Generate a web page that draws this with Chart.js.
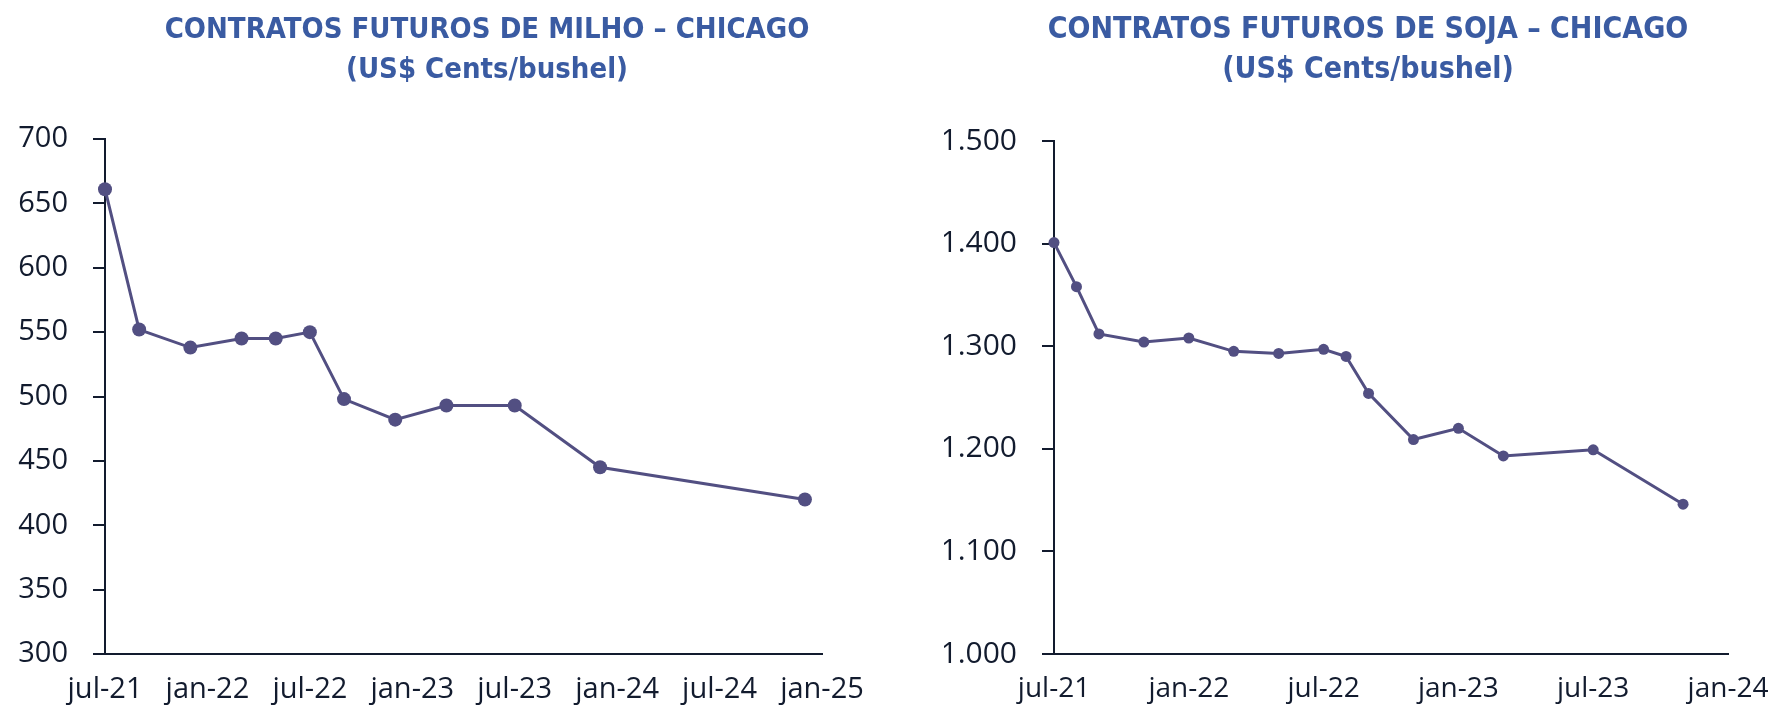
<!DOCTYPE html>
<html>
<head>
<meta charset="utf-8">
<script src="https://cdn.jsdelivr.net/npm/chart.js@4.4.1/dist/chart.umd.min.js"></script>
<style>
  body { margin: 0; background: #fff; }
  #wrap { position: relative; width: 1792px; height: 726px; overflow: hidden; }
  #wrap canvas { position: absolute; top: 0; }
</style>
</head>
<body>
<div id="wrap">
  <div id="boxMilho" style="position:absolute;left:0;top:0;width:974px;height:726px"><canvas id="milhoChart"></canvas></div>
  <div id="boxSoja" style="position:absolute;left:944px;top:0;width:848px;height:726px"><canvas id="sojaChart"></canvas></div>
</div>
<script>
// Milho - vencimentos e precos (US$ cents/bushel)
const milhoVenc = ['jul-21', 'set-21', 'dez-21', 'mar-22', 'mai-22', 'jul-22', 'set-22', 'dez-22', 'mar-23', 'jul-23', 'dez-23', 'dez-24'];
const milhoPreco = [661, 552, 538, 545, 545, 550, 498, 482, 493, 493, 445, 420];
const milhoTicks = ['jul-21', 'jan-22', 'jul-22', 'jan-23', 'jul-23', 'jan-24', 'jul-24', 'jan-25'];

// Soja - vencimentos e precos (US$ cents/bushel)
const sojaVenc = ['jul-21', 'ago-21', 'set-21', 'nov-21', 'jan-22', 'mar-22', 'mai-22', 'jul-22', 'ago-22', 'set-22', 'nov-22', 'jan-23', 'mar-23', 'jul-23', 'nov-23'];
const sojaPreco = [1401, 1358, 1312, 1304, 1308, 1295, 1293, 1297, 1290, 1254, 1209, 1220, 1193, 1199, 1146];
const sojaTicks = ['jul-21', 'jan-22', 'jul-22', 'jan-23', 'jul-23', 'jan-24'];

const meses = ['jan', 'fev', 'mar', 'abr', 'mai', 'jun', 'jul', 'ago', 'set', 'out', 'nov', 'dez'];

// months counted from jul-21
function mesIndex(s) {
    const [m, a] = s.split('-');
    return (parseInt(a, 10) - 21) * 12 + meses.indexOf(m) - 6;
}

function milhar(v) {
    return String(v).replace(/\B(?=(\d{3})+(?!\d))/g, '.');
}

const corLinha = '#524f82';
const corTitulo = '#3a5ba2';
const corEixo = '#121b2e';

function montaGrafico(id, cfg) {
    return new Chart(document.getElementById(id), {
        type: 'line',
        data: {
            datasets: [{
                data: cfg.venc.map((v, i) => ({ x: mesIndex(v), y: cfg.preco[i] })),
                borderColor: corLinha,
                backgroundColor: corLinha,
                borderWidth: cfg.lw,
                pointRadius: cfg.pr,
                pointHoverRadius: cfg.pr,
                pointBorderWidth: 0,
                tension: 0,
                clip: false
            }]
        },
        options: {
            responsive: true,
            maintainAspectRatio: false,
            animation: false,
            layout: { padding: { left: 0, right: 0, top: 0, bottom: 12 } },
            plugins: {
                legend: { display: false },
                tooltip: { enabled: false },
                title: {
                    display: true,
                    text: cfg.titulo,
                    color: corTitulo,
                    font: { family: '"DejaVu Sans Condensed", sans-serif', size: cfg.tFont, weight: 'bold', lineHeight: '40px' },
                    padding: { top: 10, bottom: cfg.titleBottom }
                }
            },
            scales: {
                x: {
                    type: 'linear',
                    min: 0,
                    max: cfg.xMax,
                    // right gap goes into the scale padding so the title stays centred on the canvas
                    afterFit: function (s) { s.height = 60; s.paddingLeft = 0; s.paddingRight = cfg.padRight; },
                    afterBuildTicks: function (s) {
                        s.ticks = cfg.ticks.map((t, i) => ({ value: i * 6 }));
                    },
                    ticks: {
                        autoSkip: false,
                        maxRotation: 0,
                        padding: 10,
                        color: corEixo,
                        font: { family: '"Open Sans", sans-serif', size: cfg.xFont },
                        callback: function (v) { return cfg.ticks[v / 6]; }
                    },
                    grid: { display: false },
                    border: { display: true, color: corEixo, width: 2 }
                },
                y: {
                    min: cfg.yMin,
                    max: cfg.yMax,
                    afterFit: function (s) { s.width = cfg.yWidth; s.paddingTop = 0; s.paddingBottom = 0; },
                    ticks: {
                        stepSize: cfg.yStep,
                        padding: 25,
                        color: corEixo,
                        font: { family: '"Open Sans", sans-serif', size: cfg.yFont },
                        callback: function (v) { return milhar(v); }
                    },
                    grid: { drawOnChartArea: false, drawTicks: true, tickLength: 12, color: corEixo, lineWidth: 2 },
                    border: { display: true, color: corEixo, width: 2 }
                }
            }
        }
    });
}

montaGrafico('milhoChart', {
    venc: milhoVenc, preco: milhoPreco, ticks: milhoTicks,
    titulo: ['CONTRATOS FUTUROS DE MILHO – CHICAGO', '(US$ Cents/bushel)'],
    xMax: 42, yMin: 300, yMax: 700, yStep: 50,
    yWidth: 105, padRight: 152, titleBottom: 49,
    lw: 3, pr: 7, xFont: 29, yFont: 29, tFont: 29
});

montaGrafico('sojaChart', {
    venc: sojaVenc, preco: sojaPreco, ticks: sojaTicks,
    titulo: ['CONTRATOS FUTUROS DE SOJA – CHICAGO', '(US$ Cents/bushel)'],
    xMax: 30, yMin: 1000, yMax: 1500, yStep: 100,
    yWidth: 110, padRight: 64, titleBottom: 51,
    lw: 3, pr: 5.5, xFont: 28, yFont: 30, tFont: 30
});
</script>
</body>
</html>
